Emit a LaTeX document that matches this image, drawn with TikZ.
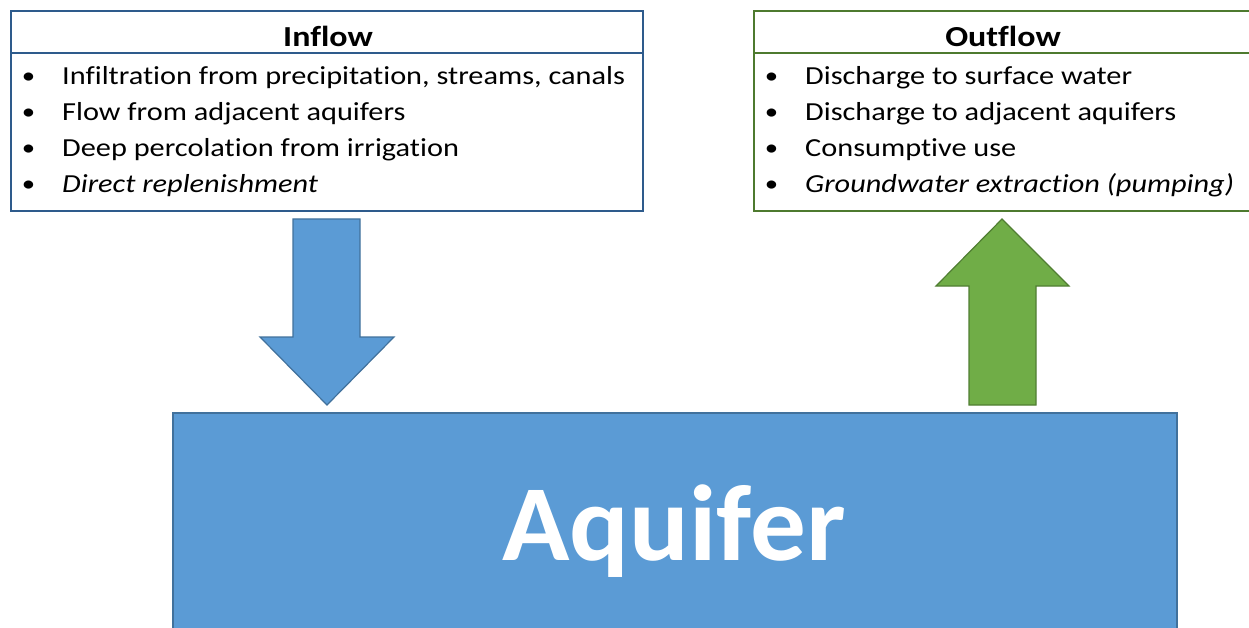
\documentclass[tikz,border=0pt]{standalone}
\usepackage{fontspec}
\setmainfont{Carlito}[Ligatures=NoCommon]
\definecolor{aqblue}{HTML}{5B9BD5}
\definecolor{aqblueline}{HTML}{41719C}
\definecolor{inborder}{HTML}{2E5B8C}
\definecolor{aqgreen}{HTML}{70AD47}
\definecolor{greenline}{HTML}{507E32}
\definecolor{outborder}{HTML}{4E7A2F}
\newcommand{\wideb}[1]{\scalebox{1.166}[1]{#1}}
\newcommand{\wideh}[1]{\scalebox{1.17}[1]{#1}}
\begin{document}
\begin{tikzpicture}[x=1pt,y=-1pt,
  body/.style={anchor=base west, font=\fontsize{26}{30}\selectfont, inner sep=0pt},
  bul/.style={anchor=base, font=\fontsize{23}{26}\selectfont, inner sep=0pt},
  head/.style={anchor=base, font=\fontsize{29}{32}\selectfont\bfseries, inner sep=0pt},
  inbox/.style={draw=inborder, line width=2pt, fill=white},
  outbox/.style={draw=outborder, line width=2pt, fill=white},
  blockin/.style={fill=aqblue, draw=aqblueline, line width=1.2pt},
  blockout/.style={fill=aqgreen, draw=greenline, line width=1.2pt}]
\useasboundingbox (0,0) rectangle (1249,628);
\clip (0,0) rectangle (1249,628);
% Inflow box
\draw[inbox] (11,11) rectangle (643,211);
\draw[draw=inborder, line width=2pt] (11,53) -- (643,53);
\node[head] (inhead) at (328,47) {\wideh{Inflow}};
\foreach \y/\t [count=\i] in {85/{Infiltration from precipitation, streams, canals},121/{Flow from adjacent aquifers},157/{Deep percolation from irrigation},193/{\itshape Direct replenishment}}{
  \node[bul] (inb\i) at (28.5,\y-1) {\wideb{•}};
  \node[body] (int\i) at (62,\y) {\wideb{\t}};
}
% Outflow box
\draw[outbox] (754,11) rectangle (1252,211);
\draw[draw=outborder, line width=2pt] (754,53) -- (1252,53);
\node[head] (outhead) at (1003,47) {\wideh{Outflow}};
\foreach \y/\t [count=\i] in {85/{Discharge to surface water},121/{Discharge to adjacent aquifers},157/{Consumptive use},193/{\itshape Groundwater extraction (pumping)}}{
  \node[bul] (outb\i) at (771.5,\y-1) {\wideb{•}};
  \node[body] (outt\i) at (805,\y) {\wideb{\t}};
}
% Arrows
\draw[blockin] (293,219) -- (360,219) -- (360,337) -- (394,337) -- (327,405) -- (260,337) -- (293,337) -- cycle;
\draw[blockout] (1002,219) -- (1069,286) -- (1036,286) -- (1036,405) -- (969,405) -- (969,286) -- (936,286) -- cycle;
% Aquifer
\draw[fill=aqblue, draw=aqblueline, line width=1.2pt] (173,413) rectangle (1177,640);
\node[anchor=base, inner sep=0pt, text=white, font=\fontsize{108}{120}\selectfont\bfseries] (aquifer) at (674,560) {\scalebox{1.03}[1]{Aquifer}};
\end{tikzpicture}
\end{document}
